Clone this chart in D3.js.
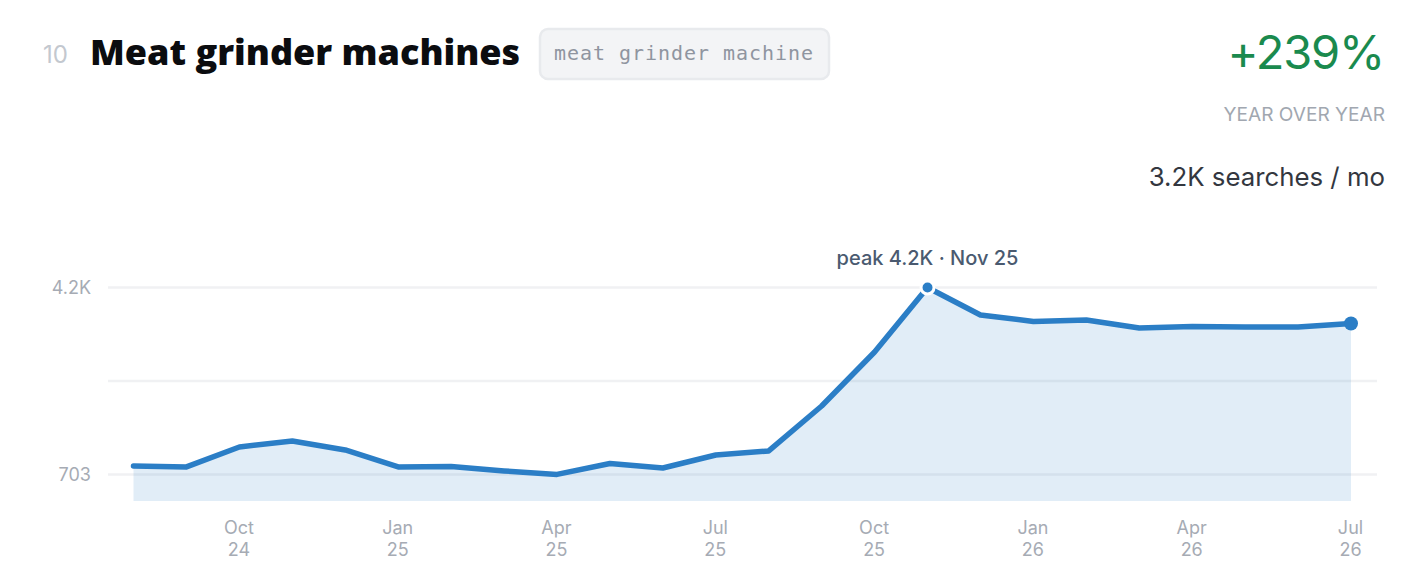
<!DOCTYPE html>
<html><head><meta charset="utf-8">
<script src="https://cdnjs.cloudflare.com/ajax/libs/d3/7.8.5/d3.min.js"></script>
<style>html,body{margin:0;padding:0;background:#fff}svg{display:block}text{font-family:Inter,sans-serif}</style>
</head><body><svg id="c" width="1420" height="570"></svg>
<script>
const months=["Aug 24","Sep 24","Oct 24","Nov 24","Dec 24","Jan 25","Feb 25","Mar 25","Apr 25","May 25","Jun 25","Jul 25","Aug 25","Sep 25","Oct 25","Nov 25","Dec 25","Jan 26","Feb 26","Mar 26","Apr 26","May 26","Jun 26","Jul 26"];
const searches=[798,787,1033,1114,994,787,792,741,703,827,775,930,981,1643,2663,4200,3502,3346,3381,3194,3229,3217,3217,3300];
const xTicks=["Oct 24","Jan 25","Apr 25","Jul 25","Oct 25","Jan 26","Apr 26","Jul 26"];
const yTicks=[703,2084,4200];
const yLabels=["703","","4.2K"];
const peakMonth="Nov 25";
const domainFloor=444;

const svg=d3.select("#c");
const x=d3.scalePoint().domain(months).range([133.5,1351]);
const y=d3.scaleSqrt().domain([domainFloor,4200]).range([501,287.5]);

// header
svg.append("text").attr("x",43).attr("y",63).attr("font-size",24).attr("fill","#c3c8cf").text("10");
svg.append("text").attr("x",90).attr("y",65).attr("font-size",36).attr("font-weight",800).attr("fill","#0b0c0f").style("font-family","'Open Sans'").text("Meat grinder machines");
svg.append("rect").attr("x",540).attr("y",29).attr("width",289).attr("height",50).attr("rx",8).attr("fill","#f3f4f6").attr("stroke","#e8eaed").attr("stroke-width",2.5);
svg.append("text").attr("x",554).attr("y",59.5).attr("font-size",20).attr("letter-spacing",0.96).attr("fill","#8f95a0").style("font-family","'DejaVu Sans Mono'").text("meat grinder machine");
svg.append("text").attr("x",1384).attr("y",68.5).attr("text-anchor","end").attr("font-size",47).attr("letter-spacing",-1.2).attr("font-weight",400).attr("fill","#1a8a4e").text("+239%");
svg.append("text").attr("x",1385).attr("y",121).attr("text-anchor","end").attr("font-size",19.1).attr("fill","#a1a7b0").text("YEAR OVER YEAR");
svg.append("text").attr("x",1385).attr("y",186).attr("text-anchor","end").attr("font-size",25.8).attr("font-weight",400).attr("fill","#33373f").text("3.2K searches / mo");

// grid and y labels
const grid=svg.append("g");
grid.selectAll("line").data(yTicks).join("line")
  .attr("x1",108).attr("x2",1377)
  .attr("y1",d=>y(d)).attr("y2",d=>y(d))
  .attr("stroke","#f0f1f3").attr("stroke-width",2.5);
svg.append("g").selectAll("text").data(yTicks).join("text")
  .attr("x",91).attr("y",d=>y(d)+6.5).attr("text-anchor","end")
  .attr("font-size",18).attr("fill","#a6abb4")
  .text((d,i)=>yLabels[i]);

// area and line
const area=d3.area().x((d,i)=>x(months[i])).y0(y(domainFloor)).y1(d=>y(d));
const line=d3.line().x((d,i)=>x(months[i])).y(d=>y(d));
svg.append("path").datum(searches).attr("d",area).attr("fill","#2b7ec6").attr("fill-opacity",0.14);
svg.append("path").datum(searches).attr("d",line).attr("fill","none").attr("stroke","#2b7ec6").attr("stroke-width",5.5).attr("stroke-linejoin","round").attr("stroke-linecap","round");

// markers
const peakIdx=months.indexOf(peakMonth);
svg.append("circle").attr("cx",x(peakMonth)).attr("cy",y(searches[peakIdx])).attr("r",6.5).attr("fill","#2b7ec6").attr("stroke","#fff").attr("stroke-width",3);
const last=months.length-1;
svg.append("circle").attr("cx",x(months[last])).attr("cy",y(searches[last])).attr("r",7).attr("fill","#2b7ec6");
svg.append("text").attr("x",x(peakMonth)).attr("y",264.5).attr("text-anchor","middle").attr("font-size",20).attr("font-weight",500).attr("fill","#4a5a70").text("peak 4.2K · Nov 25");

// x labels
const xg=svg.append("g").selectAll("g").data(xTicks).join("g").attr("transform",d=>`translate(${x(d)-0.5},0)`);
xg.append("text").attr("y",533.5).attr("text-anchor","middle").attr("font-size",18).attr("fill","#a6abb4").text(d=>d.split(" ")[0]);
xg.append("text").attr("y",555.5).attr("text-anchor","middle").attr("font-size",18).attr("fill","#a6abb4").text(d=>d.split(" ")[1]);
</script></body></html>
